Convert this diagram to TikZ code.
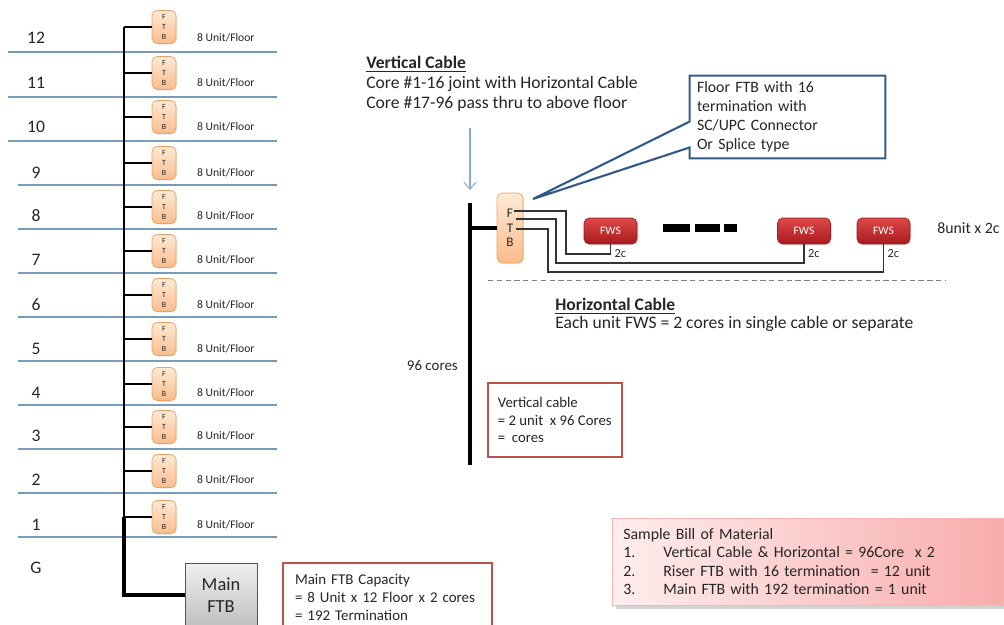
\documentclass[tikz,border=0pt]{standalone}
\usepackage{fontspec}
\setmainfont{Carlito}
\usepackage{tikz}
\usetikzlibrary{arrows.meta, positioning, shadows}
\usepackage{xcolor}

\definecolor{floorblue}{RGB}{120,155,185}
\definecolor{ftbedge}{RGB}{236,160,100}
\definecolor{ftbtop}{RGB}{254,234,214}
\definecolor{ftbbot}{RGB}{250,188,138}
\definecolor{fwstop}{RGB}{222,72,72}
\definecolor{fwsbot}{RGB}{168,26,30}
\definecolor{fwsedge}{RGB}{150,30,35}
\definecolor{boxred}{RGB}{190,80,80}
\definecolor{calloutblue}{RGB}{50,90,135}
\definecolor{arrowblue}{RGB}{140,170,205}
\definecolor{bomlight}{RGB}{254,238,238}
\definecolor{bomdark}{RGB}{248,172,172}
\definecolor{txt}{RGB}{38,38,38}

\begin{document}
\begin{tikzpicture}[x=0.02cm, y=-0.02cm,
    every node/.style = {text=txt},
    floorno/.style = {font=\fontsize{10}{12}\selectfont},
    floorline/.style = {draw=floorblue, line width=0.6pt},
    ftbbox/.style = {rectangle, draw=ftbedge, top color=ftbtop, bottom color=ftbbot, rounded corners=3pt, minimum width=0.48cm, minimum height=0.66cm, inner sep=0pt, align=center, font=\fontsize{4.5}{5.7}\selectfont, drop shadow={opacity=0.2, shadow xshift=0.6pt, shadow yshift=-0.6pt}},
    unittext/.style = {anchor=west, font=\fontsize{6.6}{8}\selectfont},
    rftbbox/.style = {ftbbox, minimum width=0.52cm, minimum height=1.4cm, font=\fontsize{7.5}{8.2}\selectfont},
    fwsbox/.style = {rectangle, draw=fwsedge, top color=fwstop, bottom color=fwsbot, rounded corners=3pt, minimum width=1.06cm, minimum height=0.52cm, inner sep=0pt, text=white, font=\fontsize{6.5}{8}\selectfont, drop shadow={opacity=0.25, shadow xshift=0.8pt, shadow yshift=-0.8pt}},
    mainbox/.style = {rectangle, draw=gray!65!black, top color=gray!12, bottom color=gray!50, minimum width=1.44cm, minimum height=1.28cm, align=center, font=\fontsize{10.5}{12.5}\selectfont},
    redbox/.style = {rectangle, draw=boxred, line width=1pt, fill=white, align=left},
    bombox/.style = {rectangle, draw=red!30, left color=bomlight, right color=bomdark, align=left, drop shadow={opacity=0.35, shadow xshift=2pt, shadow yshift=-2pt}},
    callouttext/.style = {rectangle, align=left, text width=3.62cm, inner xsep=0.14cm, minimum height=1.6cm, font=\fontsize{9}{10.8}\selectfont},
    calloutline/.style = {draw=calloutblue, line width=1.2pt},
    smalltext/.style = {font=\fontsize{7}{8}\selectfont, inner sep=1pt},
    fibre/.style = {draw=black!80, line width=0.6pt},
    riser/.style = {draw=black, line width=1.8pt},
    dashbar/.style = {draw=black, line width=4.5pt},
    pointer/.style = {draw=arrowblue, line width=0.6pt, -{Straight Barb[length=4pt, width=7pt]}}
]
\clip (0,0) rectangle (1004,625);

% Building riser: floors 12 down to 1
\coordinate (trunk) at (124,0);
\foreach \n/\c/\ly/\fy/\lx in {12/27/38/52/8, 11/73/83/97/8, 10/117/127/141/8, 9/163/173/185/18, 8/207/216/229/18, 7/251/260/273/18, 6/295/305/317/18, 5/339/349/361/18, 4/384/393/405/18, 3/427/436/449/18, 2/471/480/493/18, 1/517/525/537/18} {
    \node (fl\n) [floorno] at (36,\ly) {\n};
    \draw [floorline] (\lx,\fy) -- (277,\fy);
    \node (ftb\n) [ftbbox] at (164,\c) {F\\T\\B};
    \node (unit\n) [unittext] at (191,\ly) {8 Unit/Floor};
    \draw [line width=0.6pt] (trunk |- ftb\n.west) -- (ftb\n.west);
}
\node (flG) [floorno] at (36,568) {G};

% Main FTB at ground floor
\node (mainftb) [mainbox] at (221,595) {Main\\FTB};
\node (capacity) [redbox, text width=3.7cm, inner xsep=0.24cm, minimum height=1.36cm, font=\fontsize{8.5}{10.2}\selectfont] at (387.5,597) {Main FTB Capacity\\= 8 Unit x 12 Floor x 2 cores\\= 192 Termination};

% Trunk, getting heavier towards the main FTB
\draw [line width=0.6pt] (trunk |- ftb12.west) -- (trunk |- ftb10.west);
\draw [line width=1pt] (trunk |- ftb10.west) -- (trunk |- ftb1.west);
\draw [line width=1.8pt] (trunk |- ftb1.west) |- (mainftb.west);

% Floor detail: vertical cable
\node (vcabletext) [anchor=north west, align=left, inner sep=0pt, font=\fontsize{10}{11.3}\selectfont] at (366,56) {\underline{\textbf{Vertical Cable}}\\Core \#1-16 joint with Horizontal Cable\\Core \#17-96 pass thru to above floor};
\coordinate (risertop) at (470,203);
\coordinate (riserbot) at (470,465);
\coordinate (arrowstart) at (470,128);
\node (rftb) [rftbbox] at (510,228) {F\\T\\B};
\draw [riser] (risertop) -- (riserbot);
\draw [riser] (risertop |- rftb.west) -- (rftb.west);
\draw [pointer] (arrowstart) -- ([yshift=0.26cm]risertop);
\node (cores) [anchor=east, font=\fontsize{8.5}{10}\selectfont] at (464,366) {96 cores};
\node (vcbox) [redbox, anchor=west, inner xsep=0.2cm, minimum height=1.48cm, font=\fontsize{8.4}{9.9}\selectfont] at (487,420) {Vertical cable\\= 2 unit\ \ x 96 Cores\\=\ \ cores};

% Callout for the floor FTB
\node (callout) [callouttext] at (787.5,117) {Floor FTB with 16\\termination with\\SC/UPC Connector\\Or Splice type};
\coordinate (ftbtip) at (533,199);
\draw [calloutline] (callout.north west) -- (callout.north east) -- (callout.south east) -- (callout.south west) -- ([yshift=0.22cm]callout.south west) -- (ftbtip) -- ([yshift=-0.92cm]callout.north west) -- cycle;

% Horizontal cable to the FWS units
\node (fws1) [fwsbox] at (610.5,231) {FWS};
\node (fws2) [fwsbox] at (804,231) {FWS};
\node (fws3) [fwsbox] at (883.5,231) {FWS};
\coordinate (fF) at (514,211);
\coordinate (fT) at (516,219);
\coordinate (fB) at (516,229);
\draw [fibre] (fF) -| (566,254) -| (fws1.south);
\draw [fibre] (fT) -| (556,263) -| (fws2.south);
\draw [fibre] (fB) -| (548,272) -| (fws3.south);
\node (twoc1) [smalltext, anchor=north west] at ([xshift=0.04cm, yshift=-0.06cm]fws1.south) {2c};
\node (twoc2) [smalltext, anchor=north west] at ([xshift=0.04cm, yshift=-0.06cm]fws2.south) {2c};
\node (twoc3) [smalltext, anchor=north west] at ([xshift=0.04cm, yshift=-0.06cm]fws3.south) {2c};
\draw [dashbar] (663,228) -- (690,228);
\draw [dashbar] (695,228) -- (720,228);
\draw [dashbar] (724,228) -- (737,228);
\node (unitx) [anchor=west, inner sep=0pt, font=\fontsize{9}{11}\selectfont] at (937,228) {8unit x 2c};
\draw [gray, densely dashed, line width=0.5pt] (488,280) -- (945,280);
\node (hcabletext) [anchor=north west, align=left, inner sep=0pt, font=\fontsize{10}{10.2}\selectfont] at (555,298) {\underline{\textbf{Horizontal Cable}}\\Each unit FWS = 2 cores in single cable or separate};

% Bill of material
\node (bom) [bombox, anchor=west, text width=7.38cm, inner xsep=0.22cm, minimum height=1.74cm, font=\fontsize{9}{10.5}\selectfont] at (612,561.5) {Sample Bill of Material\\\makebox[0.8cm][l]{1.}Vertical Cable \& Horizontal = 96Core\ \ x 2\\\makebox[0.8cm][l]{2.}Riser FTB with 16 termination\ \ = 12 unit\\\makebox[0.8cm][l]{3.}Main FTB with 192 termination = 1 unit};

\end{tikzpicture}
\end{document}
